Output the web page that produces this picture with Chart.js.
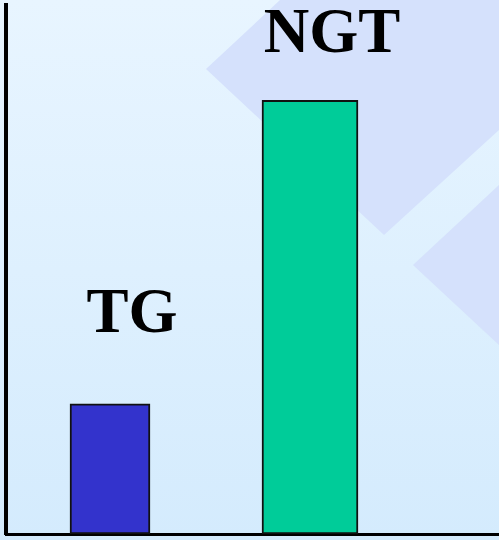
<!DOCTYPE html>
<html>
<head>
<meta charset="utf-8">
<script src="https://cdn.jsdelivr.net/npm/chart.js@4"></script>
<style>
  html, body { margin: 0; padding: 0; }
  body {
    width: 499px;
    height: 540px;
    overflow: hidden;
    background-color: #dcefff;
    background-image:
      url("data:image/svg+xml;utf8,<svg xmlns='http://www.w3.org/2000/svg' width='499' height='540'><polygon points='206,69 280,0 499,0 499,130 384,235' fill='%23d5e1fc'/><polygon points='413,265 499,185 499,345' fill='%23d5e1fc'/></svg>"),
      linear-gradient(to bottom, #e8f5ff 0%, #d4ebfd 100%);
    background-repeat: no-repeat;
  }
  #wrap { position: relative; width: 499px; height: 540px; }
</style>
</head>
<body>
<div id="wrap"><canvas id="chart"></canvas></div>
<script>
// Datos del gráfico
const categories = ['TG', 'NGT'];
const values = [24.6, 82];
const barColors = ['#3333cc', '#00cc99'];

// Estilo: grosor de barra y elevación de la etiqueta (px)
const BAR_THICKNESS = [80, 96];
const LABEL_LIFT = [72, 48];
const LABEL_SHIFT = 22;

/**
 * Dibuja el nombre de cada barra encima de ella
 */
const barLabels = {
  id: 'barLabels',
  afterDatasetsDraw(chart) {
    const ctx = chart.ctx;
    ctx.save();
    ctx.fillStyle = '#000';
    ctx.font = 'bold 63px "Liberation Serif", "Times New Roman", serif';
    ctx.textAlign = 'center';
    ctx.textBaseline = 'alphabetic';
    chart.data.datasets.forEach((ds, i) => {
      const bar = chart.getDatasetMeta(i).data[0];
      if (!bar) return;
      ctx.fillText(ds.label, bar.x + LABEL_SHIFT, bar.y - LABEL_LIFT[i]);
    });
    ctx.restore();
  }
};

new Chart(document.getElementById('chart'), {
  type: 'bar',
  data: {
    datasets: categories.map((cat, i) => ({
      label: cat,
      data: [{ x: i, y: values[i] }],
      backgroundColor: barColors[i],
      borderColor: '#111',
      borderWidth: 2,
      borderSkipped: false,
      barThickness: BAR_THICKNESS[i],
      grouped: false
    }))
  },
  options: {
    responsive: true,
    maintainAspectRatio: false,
    animation: false,
    layout: { padding: { top: 5, left: 4, right: 0, bottom: 0 } },
    plugins: {
      legend: { display: false },
      tooltip: { enabled: false }
    },
    scales: {
      x: {
        type: 'linear',
        offset: false,
        min: -0.52,
        max: 1.945,
        grid: { display: false },
        ticks: { display: false },
        border: { display: true, color: '#000', width: 3 },
        afterFit: (s) => { s.height = 6; }
      },
      y: {
        min: 0,
        max: 100,
        grid: { display: false },
        ticks: { display: false },
        border: { display: true, color: '#000', width: 4 },
        afterFit: (s) => { s.width = 2; }
      }
    }
  },
  plugins: [barLabels]
});
</script>
</body>
</html>
